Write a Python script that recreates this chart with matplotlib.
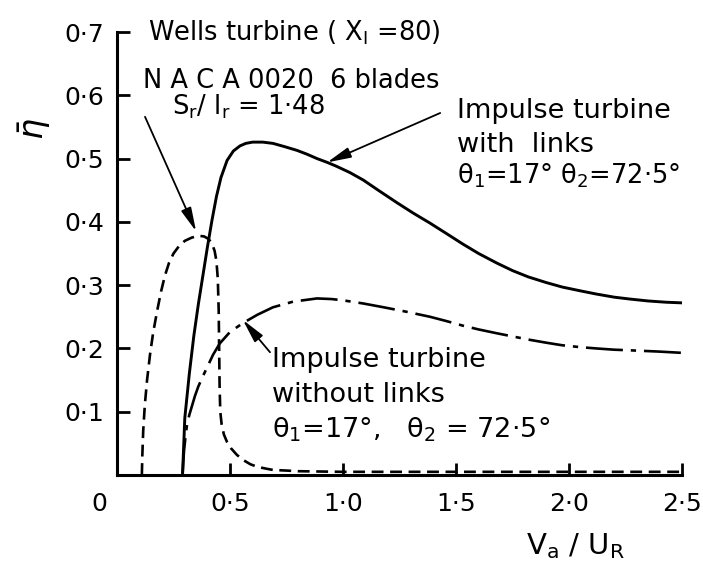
import matplotlib
matplotlib.use("Agg")
import matplotlib.pyplot as plt
import matplotlib.transforms as mtransforms

# Wells turbine (dashed)
wells_x = [0.11, 0.112, 0.116, 0.123, 0.133, 0.146, 0.16, 0.178, 0.195, 0.212, 0.23, 0.25,
           0.275, 0.30, 0.33, 0.36, 0.385, 0.405, 0.42, 0.432, 0.44, 0.446, 0.45, 0.452,
           0.454, 0.457, 0.463, 0.473, 0.487, 0.505, 0.53, 0.557, 0.59, 0.62, 0.66, 0.69,
           0.75, 0.8, 1.0, 1.5, 2.0, 2.5]
wells_y = [0.0, 0.03, 0.07, 0.11, 0.15, 0.19, 0.225, 0.26, 0.29, 0.315, 0.335, 0.35,
           0.362, 0.37, 0.375, 0.378, 0.377, 0.373, 0.366, 0.354, 0.338, 0.31, 0.26, 0.20,
           0.14, 0.10, 0.08, 0.064, 0.052, 0.042, 0.032, 0.024, 0.017, 0.013, 0.010, 0.008,
           0.007, 0.006, 0.005, 0.005, 0.005, 0.005]

# impulse turbine with links (solid)
links_x = [0.29, 0.30, 0.32, 0.34, 0.36, 0.38, 0.40, 0.42, 0.44, 0.46, 0.487, 0.515,
           0.544, 0.57, 0.60, 0.645, 0.69, 0.74, 0.796, 0.84, 0.885, 0.93, 0.97, 1.03,
           1.09, 1.16, 1.24, 1.31, 1.385, 1.46, 1.53, 1.6, 1.68, 1.75, 1.82, 1.9, 1.97,
           2.05, 2.12, 2.2, 2.27, 2.35, 2.43, 2.5]
links_y = [0.0, 0.09, 0.16, 0.22, 0.27, 0.315, 0.36, 0.402, 0.44, 0.47, 0.497, 0.512,
           0.52, 0.524, 0.526, 0.526, 0.524, 0.519, 0.513, 0.507, 0.50, 0.494, 0.488, 0.478,
           0.466, 0.449, 0.43, 0.414, 0.398, 0.381, 0.365, 0.35, 0.335, 0.323, 0.313, 0.304,
           0.297, 0.291, 0.286, 0.281, 0.278, 0.275, 0.273, 0.272]

# impulse turbine without links (dash-dot)
nolinks_x = [0.29, 0.293, 0.297, 0.303, 0.31, 0.32, 0.33, 0.345, 0.36, 0.38, 0.40, 0.425,
             0.455, 0.50, 0.557, 0.62, 0.69, 0.78, 0.885, 0.95, 1.0, 1.09, 1.18, 1.28,
             1.385, 1.46, 1.53, 1.6, 1.68, 1.75, 1.82, 1.9, 1.97, 2.05, 2.12, 2.2, 2.27,
             2.4, 2.5]
nolinks_y = [0.0, 0.02, 0.04, 0.06, 0.08, 0.095, 0.107, 0.125, 0.14, 0.156, 0.171, 0.19,
             0.208, 0.226, 0.24, 0.253, 0.265, 0.274, 0.279, 0.278, 0.276, 0.271, 0.265, 0.258,
             0.25, 0.243, 0.236, 0.23, 0.224, 0.219, 0.214, 0.209, 0.205, 0.202, 0.2, 0.198,
             0.197, 0.195, 0.193]

xticks = [0, 0.5, 1.0, 1.5, 2.0, 2.5]
xticklabels = ["0", "0\u00b75", "1\u00b70", "1\u00b75", "2\u00b70", "2\u00b75"]
yticks = [0.1, 0.2, 0.3, 0.4, 0.5, 0.6, 0.7]
yticklabels = ["0\u00b71", "0\u00b72", "0\u00b73", "0\u00b74", "0\u00b75", "0\u00b76", "0\u00b77"]

plt.rcParams['font.family'] = ['DejaVu Sans']
plt.rcParams['mathtext.fontset'] = 'dejavusans'

fig = plt.figure(figsize=(7.03, 5.68), dpi=100, facecolor='white')
ax = fig.add_axes([117/703, 1-475/568, 565/703, 443/568])

ax.plot(wells_x, wells_y, color='black', lw=1.9, dashes=(4.5, 2.5))
ax.plot(links_x, links_y, color='black', lw=2.1, solid_capstyle='round')
ax.plot(nolinks_x, nolinks_y, color='black', lw=1.9, dashes=(14, 3, 2, 3))

ax.set_xlim(0, 2.5)
ax.set_ylim(0, 0.7)
for s in ['top', 'right']:
    ax.spines[s].set_visible(False)
for s in ['left', 'bottom']:
    ax.spines[s].set_linewidth(2.2)

ax.set_xticks(xticks)
ax.set_xticklabels(xticklabels)
ax.set_yticks(yticks)
ax.set_yticklabels(yticklabels)
ax.tick_params(direction='in', length=9, width=2, labelsize=18)
ax.tick_params(axis='x', pad=12)
ax.tick_params(axis='y', pad=9)
# the "0" sits left of the origin in the original
lbl0 = ax.get_xticklabels()[0]
lbl0.set_transform(lbl0.get_transform() + mtransforms.ScaledTranslation(-0.18, 0, fig.dpi_scale_trans))

ax.set_ylabel(r'$\bar{\eta}$', fontsize=24, rotation=90, va='center')
ax.yaxis.set_label_coords(-0.145, 0.78)
ax.set_xlabel(r'$\mathrm{V_a}$ / $\mathrm{U_R}$', fontsize=21)
ax.xaxis.set_label_coords(0.812, -0.16)
ax.xaxis.label.set_va('center')

fs = 18.5
fs2 = 19.5
ax.text(0.137, 0.687, r'Wells turbine ( $\mathrm{X_I}$ =80)', fontsize=fs)
ax.text(0.115, 0.611, 'N A C A 0020  6 blades', fontsize=fs)
ax.text(0.243, 0.569, 'S$_\\mathrm{r}$/ l$_\\mathrm{r}$ = 1\u00b748', fontsize=fs)

ax.text(1.504, 0.564, 'Impulse turbine', fontsize=fs2)
ax.text(1.504, 0.510, 'with  links', fontsize=fs2)
ax.text(1.504, 0.461, '\u03b8$_1$=17\u00b0 \u03b8$_2$=72\u00b75\u00b0', fontsize=fs)

ax.text(0.686, 0.171, 'Impulse turbine', fontsize=fs2)
ax.text(0.686, 0.115, 'without links', fontsize=fs2)
ax.text(0.686, 0.060, '\u03b8$_1$=17\u00b0,   \u03b8$_2$ = 72\u00b75\u00b0', fontsize=fs2)

arrow = dict(arrowstyle='-|>,head_length=0.9,head_width=0.2', color='black', lw=1.3,
             mutation_scale=16, shrinkA=0, shrinkB=0)
ax.annotate('', xy=(0.35, 0.385), xytext=(0.124, 0.566), arrowprops=arrow)
ax.annotate('', xy=(0.93, 0.494), xytext=(1.43, 0.572), arrowprops=arrow)
ax.annotate('', xy=(0.557, 0.245), xytext=(0.677, 0.194), arrowprops=arrow)

fig.savefig('out.png', dpi=100)
